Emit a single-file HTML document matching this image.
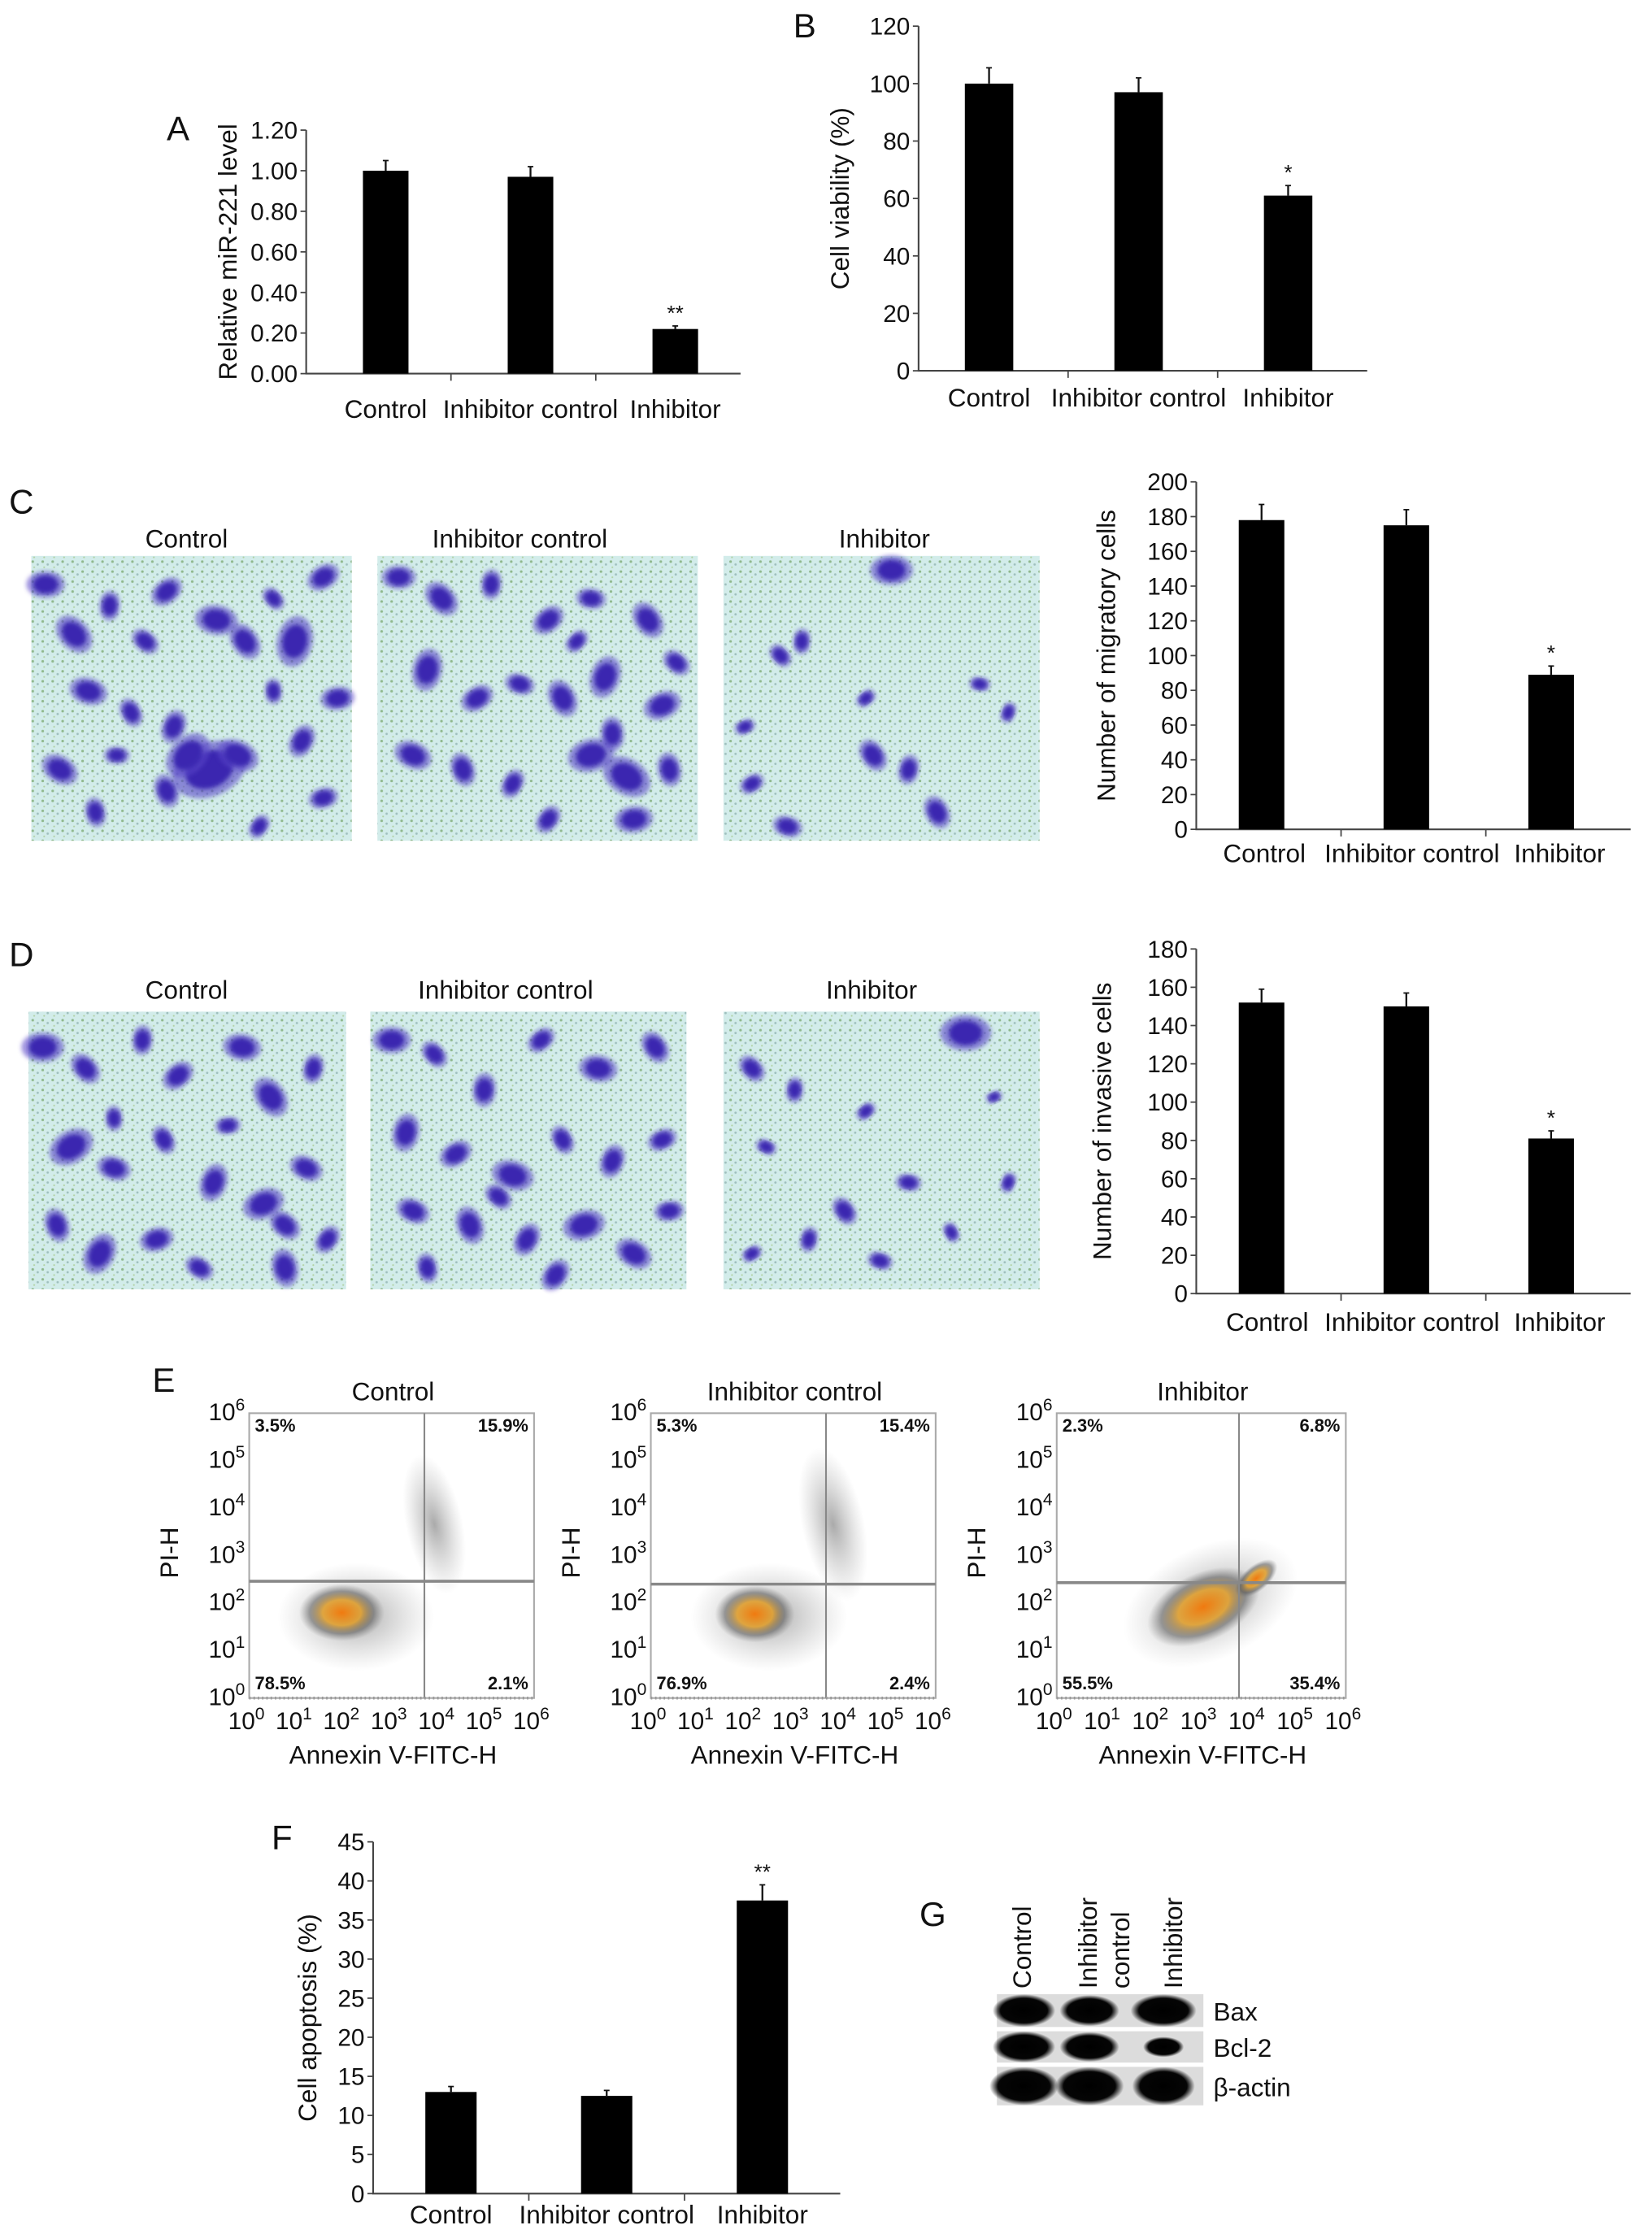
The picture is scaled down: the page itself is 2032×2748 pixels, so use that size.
<!DOCTYPE html>
<html><head><meta charset="utf-8">
<style>
html,body{margin:0;padding:0;background:#fff;}
svg{display:block;font-family:"Liberation Sans",Arial,sans-serif;}
</style></head>
<body>
<svg id="fig" width="2032" height="2748" viewBox="0 0 1160 1568" xmlns="http://www.w3.org/2000/svg">
<defs>
<pattern id="tex" width="7" height="7" patternUnits="userSpaceOnUse">
<rect width="7" height="7" fill="#d2ecea"/>
<circle cx="2" cy="2" r="0.9" fill="#8fb88d"/>
<circle cx="5.5" cy="4" r="0.8" fill="#9fbfbd"/>
<circle cx="3" cy="6" r="0.6" fill="#b0d0a0"/>
</pattern>
<radialGradient id="core" cx="50%" cy="50%" r="50%">
<stop offset="0" stop-color="#f07a10"/><stop offset="0.45" stop-color="#e0a030" stop-opacity="0.9"/>
<stop offset="0.75" stop-color="#555" stop-opacity="0.55"/><stop offset="1" stop-color="#777" stop-opacity="0"/>
</radialGradient>
<radialGradient id="halo" cx="50%" cy="50%" r="50%">
<stop offset="0" stop-color="#555" stop-opacity="0.5"/><stop offset="1" stop-color="#888" stop-opacity="0"/>
</radialGradient>
<radialGradient id="band" cx="50%" cy="50%" r="50%">
<stop offset="0" stop-color="#000"/><stop offset="0.75" stop-color="#050505"/><stop offset="1" stop-color="#000" stop-opacity="0"/>
</radialGradient>
<filter id="blur"><feGaussianBlur stdDeviation="1.5"/></filter>
</defs>
<g id="root"></g>
</svg>
<script>
// ---- data ----
const categories = ["Control","Inhibitor control","Inhibitor"];
const mirValues = [1.00, 0.97, 0.22];
const mirErrors = [0.05, 0.05, 0.015];
const mirTicks = ["0.00","0.20","0.40","0.60","0.80","1.00","1.20"];
const viabValues = [100, 97, 61];
const viabErrors = [5.5, 5, 3.5];
const viabTicks = ["0","20","40","60","80","100","120"];
const migValues = [178, 175, 89];
const migErrors = [9, 9, 5];
const migTicks = ["0","20","40","60","80","100","120","140","160","180","200"];
const invValues = [152, 150, 81];
const invErrors = [7, 7, 4];
const invTicks = ["0","20","40","60","80","100","120","140","160","180"];
const apopValues = [13, 12.5, 37.5];
const apopErrors = [0.7, 0.7, 2];
const apopTicks = ["0","5","10","15","20","25","30","35","40","45"];
const starsA = ["", "", "**"], starsB = ["", "", "*"], starsF = ["", "", "**"];
const flowTitles = ["Control","Inhibitor control","Inhibitor"];
const flowQuads = [["3.5%","15.9%","78.5%","2.1%"],["5.3%","15.4%","76.9%","2.4%"],["2.3%","6.8%","55.5%","35.4%"]];
const blotRows = ["Bax","Bcl-2","\u03b2-actin"];
const blotIntensity = [[1,0.95,1.05],[1,0.95,0.65],[1.1,1.1,1]];

const NS="http://www.w3.org/2000/svg";
const root=document.getElementById('root');
function el(tag, attrs, parent, text){
  const e=document.createElementNS(NS,tag);
  for(const k in attrs) e.setAttribute(k,attrs[k]);
  if(text!==undefined) e.textContent=text;
  (parent||root).appendChild(e); return e;
}
function label(x,y,t,size,name,anchor){
  const e=el('text',{x:x,y:y,'font-size':size,'text-anchor':anchor||'middle',fill:'#111'},root,t);
  
  
  return e;
}

function barChart(c){
  const g=el('g',{});
  
  
  const y=v=>c.yBot-(v/c.yMax)*(c.yBot-c.yTop);
  const band=(c.xEnd-c.x0)/categories.length;
  const cx=i=>c.x0+(i+0.5)*band+c.off;
  const ax=el('path',{d:`M${c.x0} ${c.yTop} V${c.yBot} H${c.xEnd}`,stroke:'#444','stroke-width':1.2,fill:'none'},g);
  
  
  c.ticks.forEach((t,i)=>{
    const v=i*c.yMax/(c.ticks.length-1), yy=y(v);
    el('line',{x1:c.x0-4,x2:c.x0,y1:yy,y2:yy,stroke:'#444','stroke-width':1},g);
    const tl=el('text',{x:c.x0-6,y:yy+6,'font-size':17,'text-anchor':'end',fill:'#111'},g,t);
    
    
  });
  for(let i=1;i<categories.length;i++){
    const xx=c.x0+i*band;
    el('line',{x1:xx,x2:xx,y1:c.yBot,y2:c.yBot+5,stroke:'#444','stroke-width':1},g);
  }
  c.vals.forEach((v,i)=>{
    const x=cx(i), top=y(v), et=y(v+c.errs[i]);
    el('line',{x1:x,x2:x,y1:et,y2:top,stroke:'#111','stroke-width':1.3},g);
    el('line',{x1:x-2,x2:x+2,y1:et,y2:et,stroke:'#111','stroke-width':1},g);
    const b=el('rect',{x:x-c.bw/2,y:top,width:c.bw,height:c.yBot-top,fill:'#000'},g);
    
    
    if(c.stars[i]){
      const s=el('text',{x:x,y:et-4,'font-size':15,'text-anchor':'middle',fill:'#111'},g,c.stars[i]);
      
      
    }
    const cl=el('text',{x:x+(c.labOff?c.labOff[i]:0),y:c.labY,'font-size':18,'text-anchor':'middle',fill:'#111'},g,categories[i]);
    
    
  });
  const tt=el('text',{x:c.titleX,y:(c.yTop+c.yBot)/2,'font-size':18,'text-anchor':'middle',fill:'#111',transform:`rotate(-90 ${c.titleX} ${(c.yTop+c.yBot)/2})`},g,c.title);
  
  
}

barChart({name:'chart-a-mir221',vals:mirValues,errs:mirErrors,stars:starsA,ticks:mirTicks,yMax:1.2,x0:215,xEnd:520,off:5,yTop:91,yBot:262,bw:32,labY:293,title:'Relative miR-221 level',titleX:166});
barChart({name:'chart-b-viability',vals:viabValues,errs:viabErrors,stars:starsB,ticks:viabTicks,yMax:120,x0:645,xEnd:960,off:-3,yTop:18,yBot:260,bw:34,labY:285,title:'Cell viability (%)',titleX:596});
barChart({name:'chart-c-migration',vals:migValues,errs:migErrors,stars:starsB,ticks:migTicks,yMax:200,x0:840,xEnd:1145,off:-5,yTop:338,yBot:582,bw:32,labY:605,title:'Number of migratory cells',titleX:783,labOff:[2,4,6]});
barChart({name:'chart-d-invasion',vals:invValues,errs:invErrors,stars:starsB,ticks:invTicks,yMax:180,x0:840,xEnd:1145,off:-5,yTop:666,yBot:908,bw:32,labY:934,title:'Number of invasive cells',titleX:780,labOff:[4,4,6]});
barChart({name:'chart-f-apoptosis',vals:apopValues,errs:apopErrors,stars:starsF,ticks:apopTicks,yMax:45,x0:262,xEnd:590,off:0,yTop:1293,yBot:1540,bw:36,labY:1561,title:'Cell apoptosis (%)',titleX:222});

[["A",125,98],["B",565,26],["C",15,360],["D",15,678],["E",115,977],["F",198,1298],["G",655,1352]].forEach(p=>label(p[1],p[2],p[0],24,'panel-label-'+p[0].toLowerCase(),'middle'));

// micrographs
const micro=[
 {x:22,y:390,w:225,h:200,t:'Control',tx:131,ty:384,blobs:[[10,20,9],[30,55,10],[55,35,7],[95,25,8],[130,45,10],[150,60,9],[185,60,12],[205,15,8],[40,95,9],[70,110,7],[100,120,8],[125,150,18],[145,140,10],[95,165,8],[190,130,8],[205,170,7],[20,150,9],[45,180,7],[160,190,6],[215,100,8],[80,60,7],[170,95,6],[110,140,12],[60,140,6],[170,30,6]]},
 {x:265,y:390,w:225,h:200,t:'Inhibitor control',tx:365,ty:384,blobs:[[15,15,8],[45,30,9],[80,20,7],[120,45,8],[150,30,7],[190,45,9],[35,80,10],[70,100,8],[100,90,7],[130,100,9],[160,85,10],[200,105,9],[25,140,9],[60,150,8],[95,160,7],[150,140,11],[175,155,12],[205,150,8],[120,185,7],[180,185,9],[210,75,7],[165,125,8],[140,60,6]]},
 {x:508,y:390,w:222,h:200,t:'Inhibitor',tx:621,ty:384,blobs:[[118,10,10],[40,70,6],[55,60,6],[100,100,5],[180,90,5],[105,140,8],[130,150,7],[20,160,6],[45,190,7],[150,180,8],[200,110,5],[15,120,5]]},
 {x:20,y:710,w:223,h:195,t:'Control',tx:131,ty:701,blobs:[[10,25,10],[40,40,8],[80,20,7],[105,45,8],[150,25,9],[170,60,10],[200,40,7],[30,95,11],[60,110,8],[95,90,7],[130,120,9],[165,135,10],[195,110,8],[20,150,8],[50,170,10],[90,160,8],[120,180,7],[180,180,9],[210,160,7],[140,80,6],[180,150,8],[60,75,6]]},
 {x:260,y:710,w:222,h:195,t:'Inhibitor control',tx:355,ty:701,blobs:[[15,20,9],[45,30,7],[80,55,8],[120,20,7],[160,40,9],[200,25,8],[25,85,9],[60,100,8],[100,115,10],[135,90,7],[170,105,8],[205,90,7],[30,140,8],[70,150,9],[110,160,8],[150,150,10],[185,170,9],[40,180,7],[130,185,8],[210,140,7],[90,130,7]]},
 {x:508,y:710,w:222,h:195,t:'Inhibitor',tx:612,ty:701,blobs:[[170,15,12],[20,40,7],[50,55,6],[100,70,5],[130,120,6],[85,140,7],[60,160,6],[20,170,5],[110,175,6],[160,155,5],[200,120,5],[190,60,4],[30,95,5]]}
];
micro.forEach((m,k)=>{
  const g=el('g',{});
  
  
  el('rect',{x:m.x,y:m.y,width:m.w,height:m.h,fill:'url(#tex)'},g);
  m.blobs.forEach((b,i)=>{
    const r=b[2]*1.3, rot=(i*47)%180;
    el('ellipse',{cx:m.x+b[0],cy:m.y+b[1],rx:r*1.15,ry:r*0.8,fill:'#5a46c8',opacity:0.6,filter:'url(#blur)',transform:`rotate(${rot} ${m.x+b[0]} ${m.y+b[1]})`},g);
    el('ellipse',{cx:m.x+b[0],cy:m.y+b[1],rx:r*0.75,ry:r*0.55,fill:'#3a28b0',filter:'url(#blur)',transform:`rotate(${rot} ${m.x+b[0]} ${m.y+b[1]})`},g);
  });
  label(m.tx,m.ty,m.t,18,'image-title','middle');
});

// flow cytometry
const flows=[
 {x0:175,x1:375,vx:298,hy:1110,cl:[[240,1132,30,20,0]],tail:[[305,1070,20,50,-12],[250,1135,55,38,0]]},
 {x0:457,x1:657,vx:580,hy:1112,cl:[[530,1133,28,20,0]],tail:[[585,1070,22,55,-12],[540,1135,55,38,0]]},
 {x0:742,x1:945,vx:870,hy:1111,cl:[[845,1128,42,24,-25],[882,1108,18,9,-40]],tail:[[850,1125,65,40,-25]]}
];
const yT=992,yB=1192;
flows.forEach((f,k)=>{
  const g=el('g',{});
  
  
  el('rect',{x:f.x0,y:yT,width:f.x1-f.x0,height:yB-yT,fill:'none',stroke:'#aaa','stroke-width':1.2},g);
  f.tail.forEach(t=>el('ellipse',{cx:t[0],cy:t[1],rx:t[2],ry:t[3],fill:'url(#halo)',transform:`rotate(${t[4]} ${t[0]} ${t[1]})`},g));
  f.cl.forEach(t=>{
    el('ellipse',{cx:t[0],cy:t[1],rx:t[2],ry:t[3],fill:'url(#core)',transform:`rotate(${t[4]} ${t[0]} ${t[1]})`},g);
  });
  el('line',{x1:f.vx,x2:f.vx,y1:yT,y2:yB,stroke:'#888','stroke-width':1.2},g);
  el('line',{x1:f.x0,x2:f.x1,y1:f.hy,y2:f.hy,stroke:'#888','stroke-width':2},g);
  el('line',{x1:f.x0,x2:f.x1,y1:yB,y2:yB,stroke:'#999','stroke-width':2,'stroke-dasharray':'1 2'},g);
  const q=flowQuads[k];
  [[f.x0+4,yT+13,'start',q[0]],[f.x1-4,yT+13,'end',q[1]],[f.x0+4,yB-6,'start',q[2]],[f.x1-4,yB-6,'end',q[3]]].forEach(p=>{
    const t=el('text',{x:p[0],y:p[1],'font-size':12.5,'font-weight':'bold','text-anchor':p[2],fill:'#111'},g,p[3]);
    
    
  });
  for(let i=0;i<=6;i++){
    const yy=yB-i*(yB-yT)/6+5;
    const t=el('text',{x:f.x0-3,y:yy,'font-size':17,'text-anchor':'end',fill:'#111'},g);
    t.innerHTML=`10<tspan dy="-7" font-size="12">${i}</tspan>`;
    
    
    const xx=f.x0+i*(f.x1-f.x0)/6;
    const u=el('text',{x:xx-2,y:1214,'font-size':17,'text-anchor':'middle',fill:'#111'},g);
    u.innerHTML=`10<tspan dy="-7" font-size="12">${i}</tspan>`;
    
    
  }
  const mid=(f.x0+f.x1)/2;
  const t1=el('text',{x:mid+1,y:983,'font-size':18,'text-anchor':'middle',fill:'#111'},g,flowTitles[k]);
   
  const t2=el('text',{x:mid+1,y:1238,'font-size':18,'text-anchor':'middle',fill:'#111'},g,'Annexin V-FITC-H');
   
  const px=f.x0-50, py=1090;
  const t3=el('text',{x:px,y:py,'font-size':18,'text-anchor':'middle',fill:'#111',transform:`rotate(-90 ${px} ${py})`},g,'PI-H');
   
});

// western blot
const bg=el('g',{});


const rowsY=[[1400,1423],[1426,1448],[1451,1478]];
const laneX=[719,765,817];
rowsY.forEach((r,i)=>{
  el('rect',{x:700,y:r[0],width:145,height:r[1]-r[0],fill:'#dcdcdc'},bg);
  laneX.forEach((lx,j)=>{
    const s=blotIntensity[i][j];
    el('ellipse',{cx:lx,cy:(r[0]+r[1])/2,rx:22*s,ry:(r[1]-r[0])*0.5*Math.min(s,1),fill:'url(#band)'},bg);
  });
  const t=el('text',{x:852,y:(r[0]+r[1])/2+7,'font-size':18,fill:'#111'},bg,blotRows[i]);
   
});
[[724,'Control'],[770,'Inhibitor'],[793,'control'],[830,'Inhibitor']].forEach(p=>{
  const t=el('text',{x:p[0],y:1396,'font-size':18,fill:'#111',transform:`rotate(-90 ${p[0]} 1396)`},bg,p[1]);
   
});
</script>
</body></html>
